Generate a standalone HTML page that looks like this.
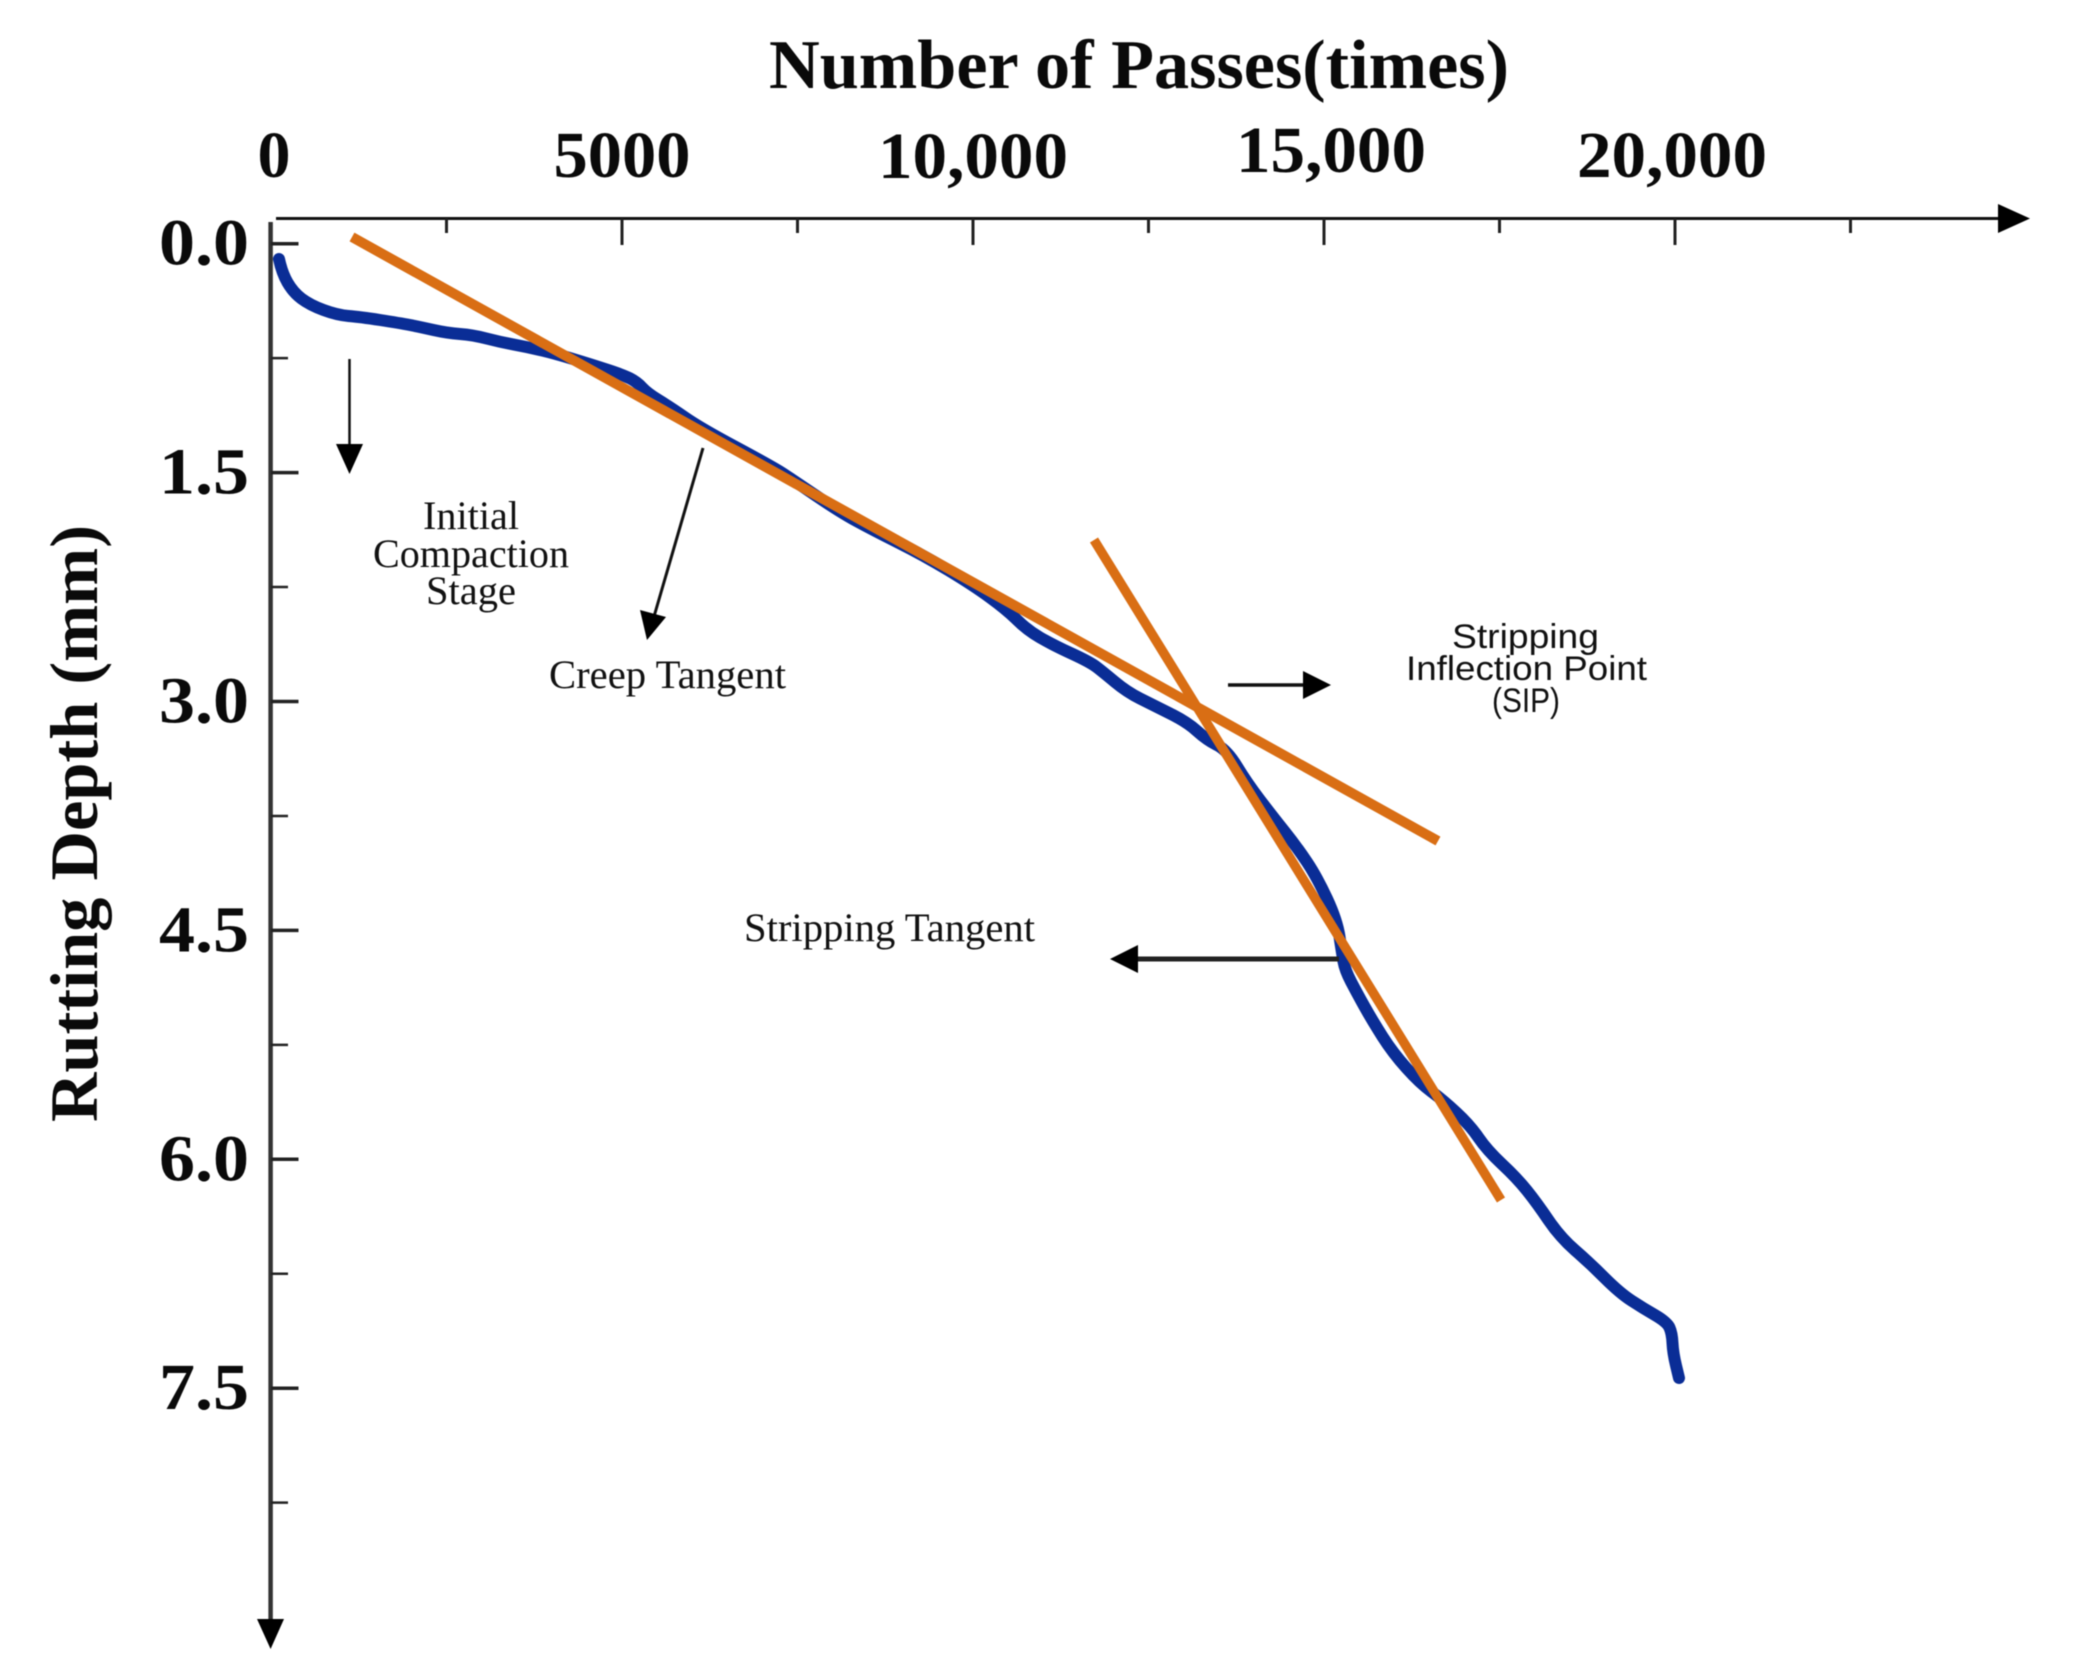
<!DOCTYPE html>
<html lang="en">
<head>
<meta charset="utf-8">
<title>Rutting Depth vs Number of Passes</title>
<style>
  html, body { margin: 0; padding: 0; background: #fff; }
  svg { display: block; }
  .serif { font-family: "Liberation Serif", serif; fill: #0a0a0a; }
  .bold { font-weight: 700; }
  .note { font-family: "Liberation Serif", serif; font-size: 40px; fill: #111; }
  .sip { font-family: "Liberation Sans", sans-serif; font-size: 34px; fill: #111; }
  #plot-root { filter: blur(0.6px); }
</style>
</head>
<body>
<svg id="chart" xmlns="http://www.w3.org/2000/svg" width="2073" height="1677" viewBox="0 0 2073 1677">
  <rect x="0" y="0" width="2073" height="1677" fill="#ffffff"/>
  <g id="plot-root">

  <text class="serif bold" x="769" y="88" font-size="70" textLength="740" lengthAdjust="spacingAndGlyphs">Number of Passes(times)</text>
  <text class="serif bold" transform="translate(97,1122) rotate(-90)" font-size="68" textLength="597" lengthAdjust="spacingAndGlyphs">Rutting Depth (mm)</text>

  <g id="axes">
    <line x1="276" y1="218.5" x2="2000" y2="218.5" stroke="#111" stroke-width="3"/>
    <polygon points="2030,218.5 1998,204 1998,233" fill="#000"/>
    <line x1="270.6" y1="222" x2="270.6" y2="1625" stroke="#333" stroke-width="4.5"/>
    <polygon points="270.6,1649 257,1619 284,1619" fill="#000"/>
  </g>

  <g id="ticks"></g>
  <g id="tick-labels"></g>
  <g id="series"></g>

  <g>
    <line x1="349.5" y1="359" x2="349.5" y2="450" stroke="#111" stroke-width="2.5"/>
    <polygon points="349.5,474 336,444 363,444" fill="#000"/>
    <text class="note" x="423" y="529" textLength="96" lengthAdjust="spacingAndGlyphs">Initial</text>
    <text class="note" x="373" y="567" textLength="196" lengthAdjust="spacingAndGlyphs">Compaction</text>
    <text class="note" x="426" y="604" textLength="90" lengthAdjust="spacingAndGlyphs">Stage</text>
  </g>

  <g>
    <line x1="703" y1="448" x2="653" y2="620" stroke="#111" stroke-width="3"/>
    <polygon points="647,640 640,610 666,617" fill="#000"/>
    <text class="note" x="549" y="688" textLength="237" lengthAdjust="spacingAndGlyphs">Creep Tangent</text>
  </g>

  <g>
    <line x1="1228" y1="685" x2="1306" y2="685" stroke="#111" stroke-width="3.5"/>
    <polygon points="1331,685 1303,671 1303,699" fill="#000"/>
    <text class="sip" x="1452" y="648" textLength="147" lengthAdjust="spacingAndGlyphs">Stripping</text>
    <text class="sip" x="1406" y="680" textLength="241" lengthAdjust="spacingAndGlyphs">Inflection Point</text>
    <text class="sip" x="1492" y="712" textLength="68" lengthAdjust="spacingAndGlyphs">(SIP)</text>
  </g>

  <g>
    <line x1="1339" y1="959" x2="1135" y2="959" stroke="#222" stroke-width="5"/>
    <polygon points="1110,959 1138,945 1138,973" fill="#000"/>
    <text class="note" x="744" y="941" textLength="291" lengthAdjust="spacingAndGlyphs">Stripping Tangent</text>
  </g>
  </g>
</svg>

<script>
const xTickValues = [2500, 5000, 7500, 10000, 12500, 15000, 17500, 20000, 22500];
const xLabelValues = [0, 5000, 10000, 15000, 20000];
const xLabelTexts = ["0", "5000", "10,000", "15,000", "20,000"];
const yTickValues = [0, 0.75, 1.5, 2.25, 3, 3.75, 4.5, 5.25, 6, 6.75, 7.5, 8.25];
const yLabelValues = [0, 1.5, 3, 4.5, 6, 7.5];
const yLabelTexts = ["0.0", "1.5", "3.0", "4.5", "6.0", "7.5"];

const rutPasses = [114, 157, 313, 556, 940, 1268, 1838, 2122, 2507, 2877, 3262, 3647, 4017, 4587, 5014, 5214, 5356, 5684, 6111, 7151, 7436, 8105, 8576, 9288, 10000, 10484, 10769, 11140, 11667, 11852, 12194, 12564, 13048, 13333, 13618, 13903, 14274, 14615, 14900, 15185, 15257, 15299, 15470, 15684, 15983, 16368, 16695, 17080, 17322, 17749, 18034, 18362, 18789, 19217, 19544, 19886, 19957, 19972, 20057];
const rutDepth = [0.100, 0.192, 0.317, 0.402, 0.467, 0.480, 0.520, 0.546, 0.585, 0.598, 0.644, 0.677, 0.716, 0.795, 0.860, 0.906, 0.978, 1.070, 1.207, 1.463, 1.549, 1.758, 1.876, 2.040, 2.237, 2.400, 2.531, 2.630, 2.741, 2.807, 2.938, 3.023, 3.134, 3.252, 3.318, 3.534, 3.757, 3.954, 4.151, 4.433, 4.649, 4.760, 4.911, 5.088, 5.304, 5.501, 5.612, 5.776, 5.940, 6.123, 6.287, 6.510, 6.681, 6.877, 6.975, 7.067, 7.139, 7.270, 7.433];

const creepPasses = [1154, 16624];
const creepDepth = [-0.044, 3.914];
const strippingPasses = [11724, 17521];
const strippingDepth = [1.942, 6.267];

const SVG_NS = "http://www.w3.org/2000/svg";
function xScale(p) { return 271 + p * 0.0702; }
function yScale(d) { return 243.7 + d * 152.6; }
function pathFrom(ps, ds) {
  return ps.map(function (p, i) {
    return (i ? "L" : "M") + xScale(p).toFixed(1) + " " + yScale(ds[i]).toFixed(1);
  }).join(" ");
}
function smoothPathFrom(ps, ds) {
  const n = ps.length;
  let d = "M" + xScale(ps[0]).toFixed(1) + " " + yScale(ds[0]).toFixed(1);
  for (let i = 1; i < n - 1; i++) {
    const cx = xScale(ps[i]);
    const cy = yScale(ds[i]);
    const mx = (cx + xScale(ps[i + 1])) / 2;
    const my = (cy + yScale(ds[i + 1])) / 2;
    d += " Q" + cx.toFixed(1) + " " + cy.toFixed(1) + " " + mx.toFixed(1) + " " + my.toFixed(1);
  }
  d += " L" + xScale(ps[n - 1]).toFixed(1) + " " + yScale(ds[n - 1]).toFixed(1);
  return d;
}

const tickGroup = document.getElementById("ticks");
const labelGroup = document.getElementById("tick-labels");
const seriesGroup = document.getElementById("series");

xTickValues.forEach(function (v) {
  const major = v % 5000 === 0;
  const el = document.createElementNS(SVG_NS, "line");
  
  
  el.setAttribute("x1", xScale(v));
  el.setAttribute("x2", xScale(v));
  el.setAttribute("y1", 218.5);
  el.setAttribute("y2", major ? 245 : 233);
  el.setAttribute("stroke", "#222");
  el.setAttribute("stroke-width", 3);
  tickGroup.appendChild(el);
});

yTickValues.forEach(function (v) {
  const major = v % 1.5 === 0;
  const el = document.createElementNS(SVG_NS, "line");
  
  
  el.setAttribute("x1", 271);
  el.setAttribute("x2", major ? 298.5 : 288);
  el.setAttribute("y1", yScale(v));
  el.setAttribute("y2", yScale(v));
  el.setAttribute("stroke", "#222");
  el.setAttribute("stroke-width", major ? 3.5 : 2.5);
  tickGroup.appendChild(el);
});

function xLabelNudge(v) {
  if (v === 0) return { dx: 3, dy: 0 };
  if (v === 10000) return { dx: 0, dy: 1 };
  if (v === 15000) return { dx: 7, dy: -5 };
  if (v === 20000) return { dx: -3, dy: 0 };
  return { dx: 0, dy: 0 };
}
xLabelValues.forEach(function (v, i) {
  const n = xLabelNudge(v);
  const t = xLabelTexts[i];
  const el = document.createElementNS(SVG_NS, "text");
  
  
  el.setAttribute("class", "serif bold");
  el.setAttribute("font-size", 66);
  el.setAttribute("text-anchor", "middle");
  el.setAttribute("x", xScale(v) + n.dx);
  el.setAttribute("y", 177 + n.dy);
  el.setAttribute("textLength", t.length === 1 ? 33 : (t.length === 4 ? 137 : 190));
  el.setAttribute("lengthAdjust", "spacingAndGlyphs");
  el.textContent = t;
  labelGroup.appendChild(el);
});

yLabelValues.forEach(function (v, i) {
  const el = document.createElementNS(SVG_NS, "text");
  
  
  el.setAttribute("class", "serif bold");
  el.setAttribute("font-size", 66);
  el.setAttribute("text-anchor", "end");
  el.setAttribute("x", 249);
  el.setAttribute("y", yScale(v) + 21);
  el.setAttribute("textLength", 90);
  el.setAttribute("lengthAdjust", "spacingAndGlyphs");
  el.textContent = yLabelTexts[i];
  labelGroup.appendChild(el);
});

const rutLine = document.createElementNS(SVG_NS, "path");


rutLine.setAttribute("d", smoothPathFrom(rutPasses, rutDepth));
rutLine.setAttribute("fill", "none");
rutLine.setAttribute("stroke", "#0a2d96");
rutLine.setAttribute("stroke-width", 12);
rutLine.setAttribute("stroke-linejoin", "round");
rutLine.setAttribute("stroke-linecap", "round");
seriesGroup.appendChild(rutLine);

const creepLine = document.createElementNS(SVG_NS, "path");


creepLine.setAttribute("d", pathFrom(creepPasses, creepDepth));
creepLine.setAttribute("fill", "none");
creepLine.setAttribute("stroke", "#d96e14");
creepLine.setAttribute("stroke-width", 10);
seriesGroup.appendChild(creepLine);

const strippingLine = document.createElementNS(SVG_NS, "path");


strippingLine.setAttribute("d", pathFrom(strippingPasses, strippingDepth));
strippingLine.setAttribute("fill", "none");
strippingLine.setAttribute("stroke", "#d96e14");
strippingLine.setAttribute("stroke-width", 9.5);
seriesGroup.appendChild(strippingLine);
</script>
</body>
</html>
